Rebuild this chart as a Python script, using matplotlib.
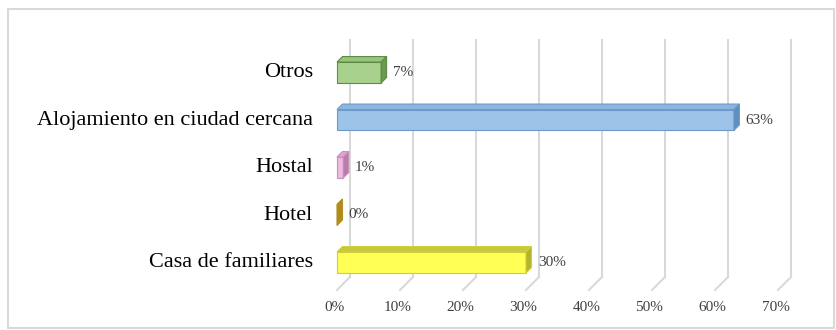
import matplotlib.pyplot as plt
from matplotlib.patches import Polygon, Rectangle

plt.rcParams['font.family'] = ['Liberation Serif', 'DejaVu Serif']

# data
categorias = ['Casa de familiares', 'Hotel', 'Hostal',
              'Alojamiento en ciudad cercana', 'Otros']
valores = [30, 0, 1, 63, 7]
etiquetas = ['30%', '0%', '1%', '63%', '7%']
ticks = [0, 10, 20, 30, 40, 50, 60, 70]
tick_labels = ['0%', '10%', '20%', '30%', '40%', '50%', '60%', '70%']

# colores: frente, arriba, lado, borde
colores = [('#ffff55', '#c8c840', '#b4b42a', '#cfcf3a'),
           ('#d7b14a', '#c9a030', '#b08a1c', '#b48f22'),
           ('#f2b8e4', '#e6a2d6', '#b97cab', '#c890bc'),
           ('#9ec3e8', '#8db5de', '#5e8fbf', '#6a9bcb'),
           ('#a9d18e', '#98c47c', '#6a9a4e', '#5d8c45')]

fig = plt.figure(figsize=(8.36, 3.30), dpi=100)
ax = fig.add_axes([0, 0, 1, 1])
ax.set_xlim(-337 / 6.3, (836 - 337) / 6.3)
ax.set_ylim((262.5 - 330) / 47.5, 262.5 / 47.5)
ax.axis('off')

# marco
fig.patches.append(Rectangle((8, 2), 826, 319, transform=None, fill=False,
                             edgecolor='#d9d9d9', linewidth=1.5))

# profundidad del piso y de las barras
wx, wy = 13 / 6.3, 13 / 47.5
bx, by = 5.5 / 6.3, 5.5 / 47.5
piso = (262.5 - 277) / 47.5
techo = (262.5 - 40) / 47.5

for t, lab in zip(ticks, tick_labels):
    ax.plot([t + wx, t + wx], [piso, techo], color='#d9d9d9', lw=1.5, zorder=1)
    ax.plot([t, t + wx], [piso - wy, piso], color='#d9d9d9', lw=1.5, zorder=1)
    ax.text(t - 0.4, piso - wy - 0.36, lab, ha='center', va='center',
            fontsize=11, color='#404040')

h = 0.44
for i, (cat, v, lab) in enumerate(zip(categorias, valores, etiquetas)):
    fr, top, side, edge = colores[i]
    y0, y1 = i - h / 2, i + h / 2
    ax.barh(i, v, height=h, left=0, color=fr, edgecolor=edge, lw=0.8, zorder=3)
    ax.add_patch(Polygon([(0, y1), (v, y1), (v + bx, y1 + by), (bx, y1 + by)],
                         closed=True, facecolor=top, edgecolor=edge, lw=0.8, zorder=3))
    ax.add_patch(Polygon([(v, y0), (v + bx, y0 + by), (v + bx, y1 + by), (v, y1)],
                         closed=True, facecolor=side, edgecolor=edge, lw=0.8, zorder=3))
    ax.text(v + bx + 1.0, i, lab, ha='left', va='center', fontsize=11, color='#404040')
    ax.text(-3.8, i, cat, ha='right', va='center', fontsize=16, color='black')

fig.savefig('out.png', dpi=100)
